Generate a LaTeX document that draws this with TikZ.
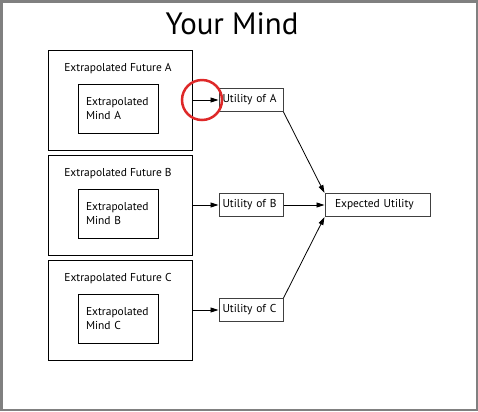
\documentclass[tikz,border=0pt]{standalone}
\usepackage{fontspec}
\setmainfont{PT Sans}
\usetikzlibrary{arrows.meta, positioning}
\definecolor{ringred}{RGB}{222,40,40}
\definecolor{framegray}{RGB}{128,128,128}

\begin{document}
\begin{tikzpicture}[x=1bp, y=-1bp, font=\fontsize{11.5}{14}\selectfont,
    future/.style={draw, rectangle, minimum width=144bp, minimum height=100bp, line width=0.8bp},
    mind/.style={draw, rectangle, minimum width=80bp, minimum height=49bp, text width=64bp, inner xsep=8bp, align=left, line width=0.8bp},
    util/.style={draw=black!75, rectangle, minimum width=64bp, minimum height=23bp, text width=57bp, inner xsep=3.5bp, align=left, line width=1bp},
    tip/.style={-{Triangle[length=8bp,width=5bp]}, line width=0.8bp}]
    \useasboundingbox (0,0) rectangle (478,411);
    \draw[framegray, line width=2.5bp] (1.25,1.25) rectangle (476.75,409.75);

    % Nodes
    \node[font=\fontsize{31}{36}\selectfont] (title) at (232,24) {Your Mind};

    \node[future] (fA) at (120,100) {};
    \node[future] (fB) at (120,205) {};
    \node[future] (fC) at (120,310) {};
    \node[anchor=base] (fAt) at (118,71) {Extrapolated Future A};
    \node[anchor=base] (fBt) at (118,176) {Extrapolated Future B};
    \node[anchor=base] (fCt) at (118,281) {Extrapolated Future C};

    \node[mind] (mA) at (118,108.5) {Extrapolated\\Mind A};
    \node[mind] (mB) at (118,213.5) {Extrapolated\\Mind B};
    \node[mind] (mC) at (118,318.5) {Extrapolated\\Mind C};

    \node[util] (uA) at (251,100) {Utility of A};
    \node[util] (uB) at (251,205) {Utility of B};
    \node[util] (uC) at (251,310) {Utility of C};
    \node[util, minimum width=105bp, text width=85bp, inner xsep=10bp] (eu) at (377.5,205) {Expected Utility};

    \node[draw=ringred, circle, line width=2.5bp, minimum size=40bp] (ring) at (202,100) {};

    % Arrows
    \draw[tip] (fA.east) -- (uA.west);
    \draw[tip] (fB.east) -- (uB.west);
    \draw[tip] (fC.east) -- (uC.west);
    \draw[tip] (uA.south east) -- (eu.north west);
    \draw[tip] (uB.east) -- (eu.west);
    \draw[tip] (uC.north east) -- (eu.south west);
\end{tikzpicture}
\end{document}
